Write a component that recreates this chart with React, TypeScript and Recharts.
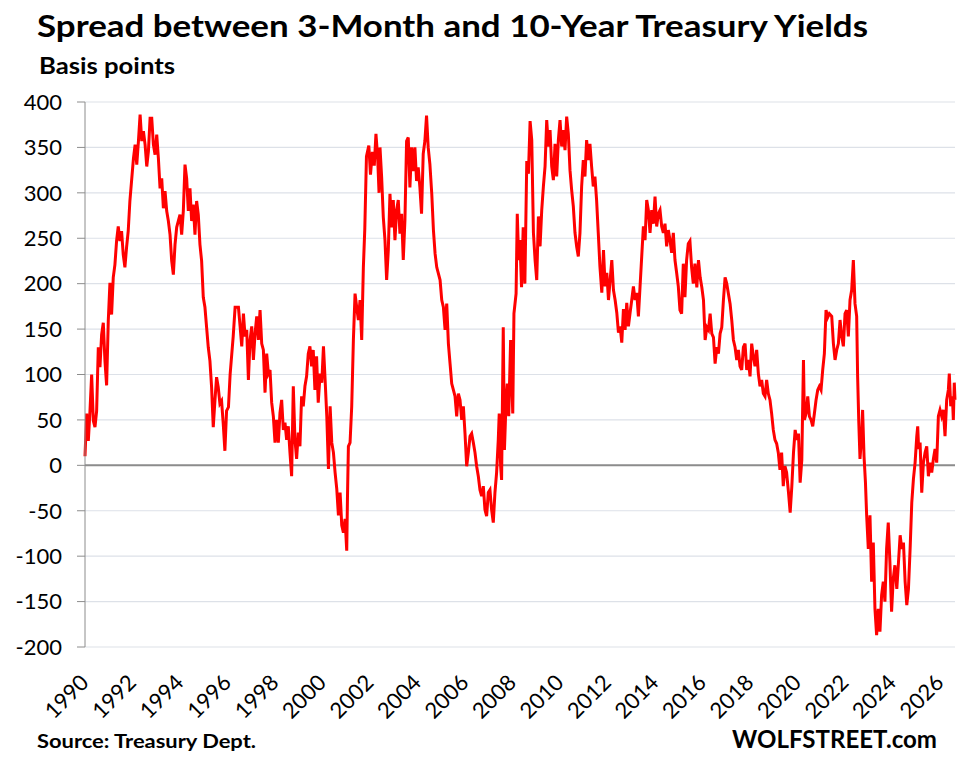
import React from 'react';
import { LineChart, Line, XAxis, YAxis, CartesianGrid, ReferenceLine } from 'recharts';

const FONT = 'Lato, "Liberation Sans", sans-serif';

const yTicks = [-200, -150, -100, -50, 0, 50, 100, 150, 200, 250, 300, 350, 400];
const yearTicks = [1990, 1992, 1994, 1996, 1998, 2000, 2002, 2004, 2006, 2008, 2010, 2012, 2014, 2016, 2018, 2020, 2022, 2024, 2026];

// [decimal year, spread in basis points]
const spread1990s: [number, number][] = [
  [1990.0, 10], [1990.07, 57], [1990.14, 27], [1990.21, 60], [1990.28, 100], [1990.35, 49], [1990.42, 42],
  [1990.49, 60], [1990.56, 130], [1990.63, 108], [1990.7, 144], [1990.77, 157], [1990.84, 115], [1990.91, 88],
  [1990.98, 159], [1991.05, 201], [1991.12, 166], [1991.19, 207], [1991.26, 221], [1991.33, 247], [1991.4, 263],
  [1991.47, 247], [1991.54, 258], [1991.61, 232], [1991.68, 218], [1991.75, 240], [1991.82, 258], [1991.89, 291],
  [1991.96, 313], [1992.04, 338], [1992.11, 353], [1992.18, 331], [1992.25, 357], [1992.32, 386], [1992.39, 357],
  [1992.46, 368], [1992.53, 353], [1992.6, 329], [1992.67, 346], [1992.74, 382], [1992.81, 382], [1992.88, 353],
  [1992.95, 342], [1993.02, 364], [1993.09, 338], [1993.16, 305], [1993.23, 316], [1993.3, 283], [1993.37, 302],
  [1993.44, 280], [1993.51, 269], [1993.58, 254], [1993.65, 225], [1993.72, 210], [1993.79, 243], [1993.86, 262],
  [1993.93, 269], [1994.0, 276], [1994.07, 254], [1994.14, 280], [1994.21, 331], [1994.28, 316], [1994.35, 280],
  [1994.42, 305], [1994.49, 269], [1994.56, 287], [1994.63, 254], [1994.7, 291], [1994.77, 276], [1994.84, 243],
  [1994.91, 225], [1994.98, 185], [1995.05, 174], [1995.12, 152], [1995.19, 130], [1995.26, 115], [1995.33, 86],
  [1995.4, 42], [1995.47, 71], [1995.54, 97], [1995.61, 86], [1995.68, 68], [1995.75, 71], [1995.82, 46],
  [1995.89, 16], [1995.96, 60], [1996.04, 64], [1996.11, 100], [1996.24, 142], [1996.32, 174], [1996.46, 174],
  [1996.53, 153], [1996.6, 131], [1996.67, 167], [1996.74, 142], [1996.81, 149], [1996.88, 94], [1996.95, 138],
  [1997.02, 153], [1997.09, 116], [1997.16, 145], [1997.23, 164], [1997.3, 138], [1997.37, 171], [1997.44, 134],
  [1997.51, 127], [1997.58, 80], [1997.65, 123], [1997.72, 101], [1997.79, 105], [1997.86, 69], [1997.93, 54],
  [1998.0, 25], [1998.07, 50], [1998.14, 25], [1998.21, 58], [1998.28, 72], [1998.35, 39], [1998.42, 47],
  [1998.49, 28], [1998.56, 43], [1998.63, 14], [1998.7, -12], [1998.77, 87], [1998.84, 28], [1998.91, 7],
  [1998.98, 36], [1999.05, 21], [1999.12, 76], [1999.19, 65], [1999.26, 87], [1999.33, 98], [1999.4, 123],
  [1999.47, 131], [1999.54, 109], [1999.61, 127], [1999.68, 83], [1999.75, 120], [1999.82, 69], [1999.9, 101],
  [1999.97, 91],
];

const spread2000s: [number, number][] = [
  [2000.04, 131], [2000.11, 94], [2000.18, 54], [2000.25, -4], [2000.32, 65], [2000.39, 25], [2000.46, 14],
  [2000.53, -8], [2000.6, -26], [2000.67, -55], [2000.74, -30], [2000.81, -66], [2000.88, -74], [2000.95, -59],
  [2001.02, -94], [2001.05, -37], [2001.09, 21], [2001.16, 25], [2001.23, 65], [2001.3, 138], [2001.37, 189],
  [2001.44, 174], [2001.51, 160], [2001.58, 182], [2001.65, 138], [2001.72, 218], [2001.78, 260], [2001.85, 340],
  [2001.95, 352], [2002.02, 320], [2002.1, 345], [2002.18, 330], [2002.25, 365], [2002.32, 340], [2002.38, 300],
  [2002.42, 350], [2002.49, 317], [2002.56, 273], [2002.63, 248], [2002.7, 204], [2002.77, 237], [2002.84, 299],
  [2002.91, 262], [2002.98, 292], [2003.05, 248], [2003.12, 281], [2003.19, 292], [2003.26, 255], [2003.33, 277],
  [2003.4, 226], [2003.47, 270], [2003.54, 357], [2003.61, 361], [2003.68, 306], [2003.75, 350], [2003.82, 324],
  [2003.89, 350], [2003.96, 313], [2004.03, 328], [2004.1, 306], [2004.17, 277], [2004.24, 343], [2004.31, 357],
  [2004.38, 385], [2004.45, 350], [2004.52, 332], [2004.6, 299], [2004.67, 259], [2004.74, 233], [2004.81, 218],
  [2004.88, 211], [2004.95, 204], [2005.02, 182], [2005.09, 174], [2005.16, 149], [2005.23, 178], [2005.3, 134],
  [2005.37, 112], [2005.44, 90], [2005.51, 83], [2005.58, 76], [2005.65, 54], [2005.72, 79], [2005.79, 72],
  [2005.86, 50], [2005.93, 65], [2006.0, 35], [2006.07, -1], [2006.14, 14], [2006.21, 32], [2006.28, 35],
  [2006.35, 25], [2006.42, 14], [2006.49, -1], [2006.56, -12], [2006.63, -27], [2006.7, -34], [2006.77, -23],
  [2006.84, -49], [2006.91, -56], [2006.98, -30], [2007.05, -27], [2007.12, -49], [2007.19, -63], [2007.26, -30],
  [2007.33, -8], [2007.4, 28], [2007.44, 57], [2007.5, -1], [2007.54, -16], [2007.61, 152], [2007.66, 17],
  [2007.73, 72], [2007.78, 90], [2007.84, 54], [2007.92, 138], [2008.01, 57], [2008.06, 167], [2008.15, 189],
  [2008.2, 277], [2008.26, 226], [2008.31, 248], [2008.38, 196], [2008.45, 262], [2008.52, 200], [2008.6, 335],
  [2008.67, 321], [2008.74, 379], [2008.81, 358], [2008.88, 256], [2008.95, 226], [2009.02, 204], [2009.09, 274],
  [2009.16, 241], [2009.23, 281], [2009.3, 307], [2009.37, 329], [2009.44, 380], [2009.51, 351], [2009.58, 369],
  [2009.65, 329], [2009.72, 314], [2009.79, 354], [2009.86, 318], [2009.93, 358],
];

const spread2010s: [number, number][] = [
  [2010.0, 380], [2010.07, 351], [2010.14, 369], [2010.21, 347], [2010.28, 384], [2010.35, 365], [2010.42, 325],
  [2010.49, 303], [2010.56, 285], [2010.63, 256], [2010.7, 241], [2010.77, 230], [2010.84, 256], [2010.91, 307],
  [2010.98, 336], [2011.05, 318], [2011.12, 358], [2011.19, 336], [2011.26, 354], [2011.33, 329], [2011.4, 307],
  [2011.47, 318], [2011.54, 292], [2011.61, 256], [2011.68, 219], [2011.76, 190], [2011.83, 237], [2011.9, 197],
  [2011.97, 212], [2012.04, 182], [2012.11, 204], [2012.18, 226], [2012.25, 193], [2012.32, 182], [2012.39, 168],
  [2012.46, 146], [2012.53, 153], [2012.6, 135], [2012.67, 172], [2012.74, 149], [2012.81, 179], [2012.88, 153],
  [2012.95, 168], [2013.02, 182], [2013.09, 197], [2013.16, 182], [2013.23, 190], [2013.3, 164], [2013.37, 197],
  [2013.44, 230], [2013.51, 263], [2013.58, 248], [2013.65, 292], [2013.72, 281], [2013.79, 256], [2013.86, 281],
  [2013.93, 266], [2014.0, 296], [2014.07, 263], [2014.14, 277], [2014.21, 281], [2014.28, 263], [2014.35, 256],
  [2014.42, 266], [2014.49, 241], [2014.56, 259], [2014.63, 248], [2014.7, 234], [2014.77, 256], [2014.84, 226],
  [2014.91, 212], [2014.98, 197], [2015.05, 171], [2015.12, 167], [2015.19, 222], [2015.26, 185], [2015.33, 226],
  [2015.4, 244], [2015.47, 247], [2015.54, 218], [2015.61, 200], [2015.68, 222], [2015.76, 196], [2015.83, 226],
  [2015.9, 207], [2015.97, 196], [2016.04, 182], [2016.11, 138], [2016.18, 152], [2016.25, 149], [2016.32, 167],
  [2016.39, 145], [2016.46, 141], [2016.53, 112], [2016.6, 130], [2016.67, 123], [2016.74, 145], [2016.81, 152],
  [2016.88, 182], [2016.95, 207], [2017.02, 200], [2017.09, 189], [2017.16, 178], [2017.23, 160], [2017.3, 138],
  [2017.37, 130], [2017.44, 116], [2017.51, 127], [2017.58, 109], [2017.65, 105], [2017.72, 130], [2017.79, 134],
  [2017.86, 105], [2017.93, 116], [2018.0, 98], [2018.07, 134], [2018.14, 120], [2018.21, 109], [2018.28, 127],
  [2018.35, 101], [2018.42, 87], [2018.49, 94], [2018.56, 79], [2018.63, 76], [2018.7, 94], [2018.77, 79],
  [2018.84, 72], [2018.91, 57], [2018.98, 39], [2019.05, 28], [2019.12, 24], [2019.19, 14], [2019.26, -5],
  [2019.33, 14], [2019.4, -23], [2019.47, -1], [2019.54, -8], [2019.62, -30], [2019.69, -52], [2019.76, -23],
  [2019.83, 14], [2019.9, 39], [2019.97, 28],
];

const spread2020s: [number, number][] = [
  [2020.04, 35], [2020.11, -19], [2020.18, 6], [2020.25, 116], [2020.29, 50], [2020.36, 57], [2020.43, 76],
  [2020.5, 54], [2020.57, 50], [2020.64, 43], [2020.71, 57], [2020.78, 72], [2020.85, 83], [2020.92, 87],
  [2020.99, 83], [2021.06, 105], [2021.13, 123], [2021.2, 171], [2021.27, 163], [2021.34, 167], [2021.44, 164],
  [2021.51, 134], [2021.58, 116], [2021.65, 127], [2021.72, 134], [2021.79, 160], [2021.86, 142], [2021.93, 131],
  [2022.0, 167], [2022.07, 171], [2022.14, 142], [2022.21, 182], [2022.28, 193], [2022.35, 226], [2022.42, 178],
  [2022.49, 164], [2022.53, 98], [2022.58, 47], [2022.63, 7], [2022.7, 32], [2022.74, 61], [2022.8, 10],
  [2022.86, -19], [2022.91, -55], [2022.98, -92], [2023.05, -55], [2023.12, -128], [2023.19, -85], [2023.26, -158],
  [2023.33, -187], [2023.4, -158], [2023.47, -183], [2023.54, -143], [2023.61, -128], [2023.68, -150], [2023.75, -92],
  [2023.82, -63], [2023.89, -107], [2023.96, -161], [2024.03, -125], [2024.1, -110], [2024.18, -136], [2024.25, -107],
  [2024.32, -77], [2024.39, -92], [2024.46, -85], [2024.53, -128], [2024.6, -154], [2024.67, -136], [2024.74, -92],
  [2024.81, -41], [2024.88, -15], [2024.95, 3], [2025.02, 32], [2025.06, 43], [2025.1, 18], [2025.16, 25],
  [2025.23, -30], [2025.3, 3], [2025.37, 14], [2025.44, 21], [2025.51, -12], [2025.58, 3], [2025.65, -8],
  [2025.72, 7], [2025.79, 18], [2025.86, 3], [2025.93, 54], [2026.0, 61], [2026.07, 54], [2026.14, 61],
  [2026.21, 32], [2026.28, 72], [2026.35, 83], [2026.39, 101], [2026.45, 65], [2026.52, 76], [2026.56, 50],
  [2026.6, 91], [2026.63, 72],
];

const data = [...spread1990s, ...spread2000s, ...spread2010s, ...spread2020s].map(([t, v]) => ({ t, v }));

const YearTick = ({ x, payload }: any) => {
  const ax = x + 5;
  const ay = 684;
  return (
    <text x={ax} y={ay} transform={`rotate(-45 ${ax} ${ay})`} textAnchor="end" fontSize={22} fontFamily={FONT} fill="#000">
      {payload.value}
    </text>
  );
};

export default function App() {
  return (
    <div style={{ position: 'absolute', left: 0, top: 0, width: 963, height: 761, background: '#fff' }}>
      <LineChart width={963} height={761} data={data} margin={{ top: 102, right: 8, bottom: 74, left: 0 }}>
        <CartesianGrid vertical={false} stroke="#dde1e8" strokeWidth={1.2} />
        <XAxis
          type="number"
          dataKey="t"
          domain={[1990, 2026.63]}
          ticks={yearTicks}
          axisLine={false}
          tickLine={false}
          height={40}
          interval={0}
          tick={<YearTick />}
        />
        <YAxis
          domain={[-200, 400]}
          ticks={yTicks}
          width={85}
          interval={0}
          stroke="#8c8c8c"
          tickSize={8}
          tickMargin={15}
          tick={{ fontSize: 22, fill: '#000', fontFamily: FONT }}
        />
        <ReferenceLine y={0} stroke="#8c8c8c" strokeWidth={2} />
        <Line type="linear" dataKey="v" stroke="#ff0000" strokeWidth={3} dot={false} isAnimationActive={false} />
      </LineChart>
      <svg width={963} height={761} style={{ position: 'absolute', left: 0, top: 0, pointerEvents: 'none' }}>
        <text x={37} y={37} fontSize={31} fontWeight="bold" fontFamily={FONT} textLength={831} lengthAdjust="spacingAndGlyphs">
          Spread between 3-Month and 10-Year Treasury Yields
        </text>
        <text x={39} y={74} fontSize={22} fontWeight="bold" fontFamily={FONT} textLength={136} lengthAdjust="spacingAndGlyphs">
          Basis points
        </text>
        <text x={37} y={748} fontSize={18} fontWeight="bold" fontFamily={FONT} textLength={219} lengthAdjust="spacingAndGlyphs">
          Source: Treasury Dept.
        </text>
        <text x={732} y={748} fontSize={25} fontWeight="bold" fontFamily={FONT} textLength={205} lengthAdjust="spacingAndGlyphs">
          WOLFSTREET.com
        </text>
      </svg>
    </div>
  );
}
